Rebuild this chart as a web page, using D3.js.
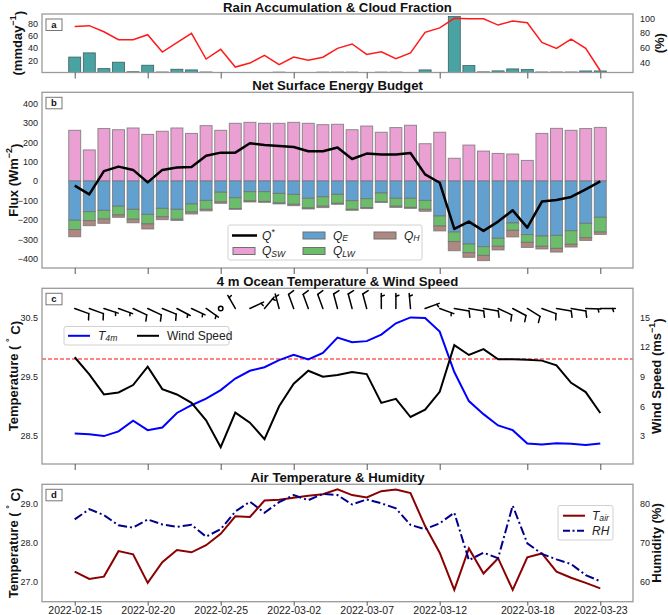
<!DOCTYPE html>
<html><head><meta charset="utf-8">
<script src="https://cdn.jsdelivr.net/npm/d3@7"></script>
<style>body{margin:0;background:#fff}svg{font-family:"Liberation Sans",Arial,sans-serif}</style>
</head><body><svg id="c" width="668" height="615"></svg>
<script>
// ---------------- DATA ----------------
const dates = ["2022-02-15","2022-02-16","2022-02-17","2022-02-18","2022-02-19","2022-02-20","2022-02-21","2022-02-22","2022-02-23","2022-02-24",
"2022-02-25","2022-02-26","2022-02-27","2022-02-28","2022-03-01","2022-03-02","2022-03-03","2022-03-04","2022-03-05","2022-03-06",
"2022-03-07","2022-03-08","2022-03-09","2022-03-10","2022-03-11","2022-03-12","2022-03-13","2022-03-14","2022-03-15","2022-03-16",
"2022-03-17","2022-03-18","2022-03-19","2022-03-20","2022-03-21","2022-03-22","2022-03-23"];
const tickDates = ["2022-02-15","2022-02-20","2022-02-25","2022-03-02","2022-03-07","2022-03-12","2022-03-18","2022-03-23"];

// (a) rain accumulation (mm/day) and cloud fraction (%)
const rain = [25,31.8,6.3,16.7,1.2,11.8,0.8,5.3,4.2,0.8,0,0,0,0,0.6,0,0,0.6,0.6,0.6,0,0.6,0.6,0,4.2,0,90.6,11.2,1.0,2.6,5.8,4.7,0.8,0.8,0.8,2.5,2.5];
const cloud = [89,90,81.7,70.8,70.8,77.6,54,66.7,79.5,44.5,57.7,33.5,39,49.5,36.7,47.2,43,47,59,65,50.8,54.4,44.9,52.7,80.9,87,100,99.5,99.5,90.8,96.3,94,67.2,59,71.7,59,28.5];

// (b) surface energy budget (W m-2)
const qSW = [261,160,270,264,273,240,256,273,245,285,261,297,302,297,297,302,297,290,292,264,283,251,275,287,192,251,117,185,154,142,139,106,245,271,261,270,276];
const qE  = [-202,-158,-151,-130,-146,-172,-141,-146,-118,-100,-58,-86,-55,-55,-64,-69,-89,-81,-69,-101,-91,-62,-89,-89,-100,-180,-263,-324,-338,-295,-216,-276,-283,-280,-256,-218,-187];
const qLW = [-48,-46,-45,-45,-51,-49,-43,-51,-42,-46,-50,-56,-48,-50,-49,-51,-50,-49,-46,-45,-46,-46,-41,-47,-46,-52,-49,-45,-45,-41,-38,-40,-53,-67,-70,-74,-76];
const qH  = [-37,-26,-22,-12,-18,-26,-15,-6,-10,-8,-7,-4,-5,-5,-5,-7,-5,-7,-5,-5,-5,-2,-6,-5,-10,-25,-47,-24,-27,-19,-34,-26,-14,-19,-14,-14,-12];
const qStar = [-24,-69,51,74,57,-7,57,69,72,130,146,146,194,185,180,175,153,153,172,113,141,137,137,144,34,-9,-247,-209,-257,-209,-151,-240,-106,-98,-82,-43,-2];

// (c) 4 m ocean temperature (°C), wind speed (m/s), wind direction (deg, barb staff bearing)
const t4m = [28.544,28.53,28.50,28.58,28.76,28.60,28.645,28.89,29.02,29.13,29.275,29.47,29.60,29.66,29.78,29.87,29.79,29.90,30.16,30.08,30.10,30.21,30.40,30.50,30.49,30.26,29.58,29.09,28.87,28.68,28.60,28.375,28.36,28.38,28.37,28.35,28.375];
const wind = [10.97,9.24,7.21,7.41,8.16,10.02,7.75,7.21,6.36,4.6,1.88,5.38,4.36,2.69,6.02,8.29,9.61,9.0,9.17,9.48,9.27,6.36,6.76,4.93,5.68,7.48,12.19,11.2,11.79,10.77,10.77,10.73,10.63,10.16,8.39,7.45,5.34];
const windDir = [110,110,108,110,115,115,112,118,115,125,0,330,65,40,345,340,340,340,345,345,345,0,0,355,70,110,100,100,100,115,118,122,110,100,100,92,90];
const t4mThreshold = 29.8;

// (d) air temperature (°C) and relative humidity (%)
const tAir = [27.255,27.07,27.13,27.78,27.70,26.97,27.50,27.81,27.75,27.93,28.22,28.67,28.65,29.07,29.09,29.14,29.19,29.23,29.36,29.21,29.15,29.31,29.35,29.26,28.42,27.74,26.79,27.85,27.21,27.60,26.79,27.62,27.72,27.255,27.10,26.97,26.83];
const rh = [75.9,78.5,77.0,74.4,73.8,75.9,74.6,74.0,74.5,71.5,73.4,77.9,80.4,77.6,80.3,82.1,80.8,82.4,82.1,79.7,81.0,80.0,78.7,74.5,73.4,74.9,77.6,65.5,67.4,66.0,79.4,69.8,67.1,65.7,64.5,61.7,60.1];

// ---------------- DRAW ----------------
const svg = d3.select("#c");
const parse = d3.utcParse("%Y-%m-%d");
const dts = dates.map(parse);
const DAY = 864e5;
const X0 = 42, X1 = 633;
const x = d3.scaleUtc()
  .domain([new Date(+dts[0] - 2.24*DAY), new Date(+dts[dts.length-1] + 2.24*DAY)])
  .range([X0, X1]);
const bw = x(new Date(+dts[0] + 0.82*DAY)) - x(dts[0]);

const P = {a:{top:14,bottom:72.5}, b:{top:92.3,bottom:268}, c:{top:288.3,bottom:464}, d:{top:484.3,bottom:601.7}};
const FRAME = "#9a9a9a";

function frame(p, title, letter, showX) {
  const g = svg.append("g");
  g.append("rect").attr("x", X0).attr("y", p.top).attr("width", X1-X0).attr("height", p.bottom-p.top)
    .attr("fill","none").attr("stroke",FRAME).attr("stroke-width",1.3);
  const ax = g.append("g").attr("transform",`translate(0,${p.bottom})`)
    .call(d3.axisBottom(x).tickValues(tickDates.map(parse)).tickSize(showX ? 4 : 6).tickPadding(showX ? 0.5 : 3)
      .tickFormat(showX ? d3.utcFormat("%Y-%m-%d") : () => ""));
  ax.select(".domain").remove();
  ax.selectAll(".tick line").attr("stroke","#555").attr("stroke-width",1);
  ax.selectAll(".tick text").attr("font-size",10.5).attr("fill","#222").attr("font-family","Liberation Sans, Arial, sans-serif");
  svg.append("text").attr("x",(X0+X1)/2).attr("y",p.top-2.2).attr("text-anchor","middle")
    .attr("font-weight","bold").attr("font-size",13.2).attr("fill","#111").text(title);
  const bx = X0+4, by = p.top+5;
  svg.append("rect").attr("x",bx).attr("y",by).attr("width",16).attr("height",11.5)
    .attr("fill","#fff").attr("stroke","#777").attr("stroke-width",1);
  svg.append("text").attr("x",bx+8).attr("y",by+9).attr("text-anchor","middle")
    .attr("font-size",9.5).attr("font-weight","bold").attr("fill","#111").text(letter);
}

function yAxis(scale, ticks, side, fmt) {
  const a = (side === "left" ? d3.axisLeft(scale) : d3.axisRight(scale))
    .tickValues(ticks).tickSize(0).tickPadding(side==="left"?4:7);
  if (fmt) a.tickFormat(fmt);
  const g = svg.append("g").attr("transform",`translate(${side==="left"?X0:X1},0)`).call(a);
  g.select(".domain").remove();
  g.selectAll(".tick text").attr("font-size",9).attr("fill","#222").attr("font-family","Liberation Sans, Arial, sans-serif");
}

function yLabelSup(xp, yc, before, sup, after) {
  const t = svg.append("text").attr("transform",`translate(${xp},${yc}) rotate(-90)`)
    .attr("text-anchor","middle").attr("dominant-baseline","central")
    .attr("font-weight","bold").attr("font-size",13).attr("fill","#111");
  t.append("tspan").text(before);
  if (sup) {
    t.append("tspan").attr("dy","-0.45em").attr("font-size","9px").text(sup);
    t.append("tspan").attr("dy","0.45em").text(after);
  }
  return t;
}
function mathText(g, xp, yp, base, sub, sup, size) {
  const t = g.append("text").attr("x",xp).attr("y",yp).attr("dominant-baseline","central")
    .attr("font-size",size||12).attr("font-style","italic").attr("fill","#222");
  t.append("tspan").text(base);
  if (sub) t.append("tspan").attr("dy","0.3em").attr("font-size","0.72em").text(sub);
  if (sup) t.append("tspan").attr("dy","-0.4em").attr("font-size","0.72em").text(sup);
  return t;
}

// ----- Panel a -----
const yRain = d3.scaleLinear().domain([0,94.8]).range([P.a.bottom,P.a.top]);
const yCloud = d3.scaleLinear().domain([26.1,105.9]).range([P.a.bottom,P.a.top]);
svg.append("g").selectAll("rect").data(rain).join("rect")
  .attr("x",(d,i)=>x(dts[i])-bw/2).attr("width",bw)
  .attr("y",d=>yRain(d)).attr("height",d=>yRain(0)-yRain(d))
  .attr("fill","#4aa3a3").attr("stroke","#3d5e5e").attr("stroke-width",0.8);
svg.append("path").datum(cloud).attr("fill","none").attr("stroke","#ff1a1a").attr("stroke-width",1.5)
  .attr("d", d3.line().x((d,i)=>x(dts[i])).y(d=>yCloud(d)));
frame(P.a, "Rain Accumulation & Cloud Fraction", "a", false);
yAxis(yRain,[20,40,60,80],"left");
yAxis(yCloud,[40,60,80,100],"right");
yLabelSup(17,(P.a.top+P.a.bottom)/2,"(mmday","\u22121",")");
yLabelSup(659,(P.a.top+P.a.bottom)/2,"(%)");

// ----- Panel b -----
const yF = d3.scaleLinear().domain([-447.9,456.6]).range([P.b.bottom,P.b.top]);
const C = {sw:"#eba0d4", e:"#62a0cf", lw:"#6bbc6b", h:"#ae8881"};
const segs = [];
dts.forEach((d,i)=>{
  segs.push({i, y0:0, y1:qSW[i], c:C.sw});
  segs.push({i, y0:0, y1:qE[i], c:C.e});
  segs.push({i, y0:qE[i], y1:qE[i]+qLW[i], c:C.lw});
  segs.push({i, y0:qE[i]+qLW[i], y1:qE[i]+qLW[i]+qH[i], c:C.h});
});
svg.append("g").selectAll("rect").data(segs).join("rect")
  .attr("x",d=>x(dts[d.i])-bw/2).attr("width",bw)
  .attr("y",d=>yF(Math.max(d.y0,d.y1))).attr("height",d=>Math.abs(yF(d.y0)-yF(d.y1)))
  .attr("fill",d=>d.c).attr("stroke","#6f6f6f").attr("stroke-opacity",0.75).attr("stroke-width",1);
svg.append("path").datum(qStar).attr("fill","none").attr("stroke","#000").attr("stroke-width",2.5)
  .attr("stroke-linejoin","round")
  .attr("d", d3.line().x((d,i)=>x(dts[i])).y(d=>yF(d)));
frame(P.b, "Net Surface Energy Budget", "b", false);
yAxis(yF,d3.range(-400,401,100),"left");
yLabelSup(13,(P.b.top+P.b.bottom)/2,"Flux (Wm","\u22122",")");
{
  const g = svg.append("g");
  g.append("rect").attr("x",228).attr("y",225).attr("width",194).attr("height",35).attr("rx",2)
    .attr("fill","#fff").attr("fill-opacity",0.85).attr("stroke","#d0d0d0");
  const r1 = 235.5, r2 = 251;
  g.append("line").attr("x1",232).attr("x2",257).attr("y1",r1).attr("y2",r1).attr("stroke","#000").attr("stroke-width",2.5);
  mathText(g,262,r1,"Q",null,"*");
  const patch = (px,py,c)=>g.append("rect").attr("x",px).attr("y",py-3.5).attr("width",22).attr("height",7)
     .attr("fill",c).attr("stroke","#6f6f6f").attr("stroke-width",1);
  patch(233,r2,C.sw); mathText(g,262,r2,"Q","SW");
  patch(303,r1,C.e); mathText(g,333,r1,"Q","E");
  patch(303,r2,C.lw); mathText(g,333,r2,"Q","LW");
  patch(374,r1,C.h); mathText(g,404,r1,"Q","H");
}

// ----- Panel c -----
const yT = d3.scaleLinear().domain([28.03,30.99]).range([P.c.bottom,P.c.top]);
const yW = d3.scaleLinear().domain([0.18,17.94]).range([P.c.bottom,P.c.top]);
svg.append("line").attr("x1",X0).attr("x2",X1).attr("y1",yT(t4mThreshold)).attr("y2",yT(t4mThreshold))
  .attr("stroke","#ff4040").attr("stroke-opacity",0.85).attr("stroke-width",1.4).attr("stroke-dasharray","4,2");
svg.append("path").datum(t4m).attr("fill","none").attr("stroke","#0000ff").attr("stroke-width",2)
  .attr("d", d3.line().x((d,i)=>x(dts[i])).y(d=>yT(d)));
svg.append("path").datum(wind).attr("fill","none").attr("stroke","#000").attr("stroke-width",2)
  .attr("d", d3.line().x((d,i)=>x(dts[i])).y(d=>yW(d)));
// wind barbs
{
  const g = svg.append("g").attr("stroke","#000").attr("stroke-width",1.5).attr("fill","none").attr("stroke-linecap","round");
  const L = 15, fh = 0.4*L, fw = 0.25*L, sp = 0.12*L;
  const by = yT(30.65);
  wind.forEach((s,i)=>{
    const cx = x(dts[i]);
    const r = Math.round(s/5)*5;
    if (r === 0) { g.append("circle").attr("cx",cx).attr("cy",by).attr("r",0.15*L); return; }
    const a = windDir[i]*Math.PI/180;
    const ux = Math.sin(a), uy = -Math.cos(a);
    const px = -uy, py = ux;
    const pt = (along, perp) => [cx + ux*along + px*perp, by + uy*along + py*perp];
    const segsB = [[pt(0,0), pt(L,0)]];
    let off = L;
    const nFull = Math.floor(r/10), half = (r%10) >= 5;
    for (let k=0;k<nFull;k++){ segsB.push([pt(off,0), pt(off+fw/2, fh)]); off -= sp; }
    if (half) {
      if (off === L) off -= 1.5*sp;
      segsB.push([pt(off,0), pt(off+fw/4, fh/2)]);
    }
    segsB.forEach(sg=>g.append("line").attr("x1",sg[0][0]).attr("y1",sg[0][1]).attr("x2",sg[1][0]).attr("y2",sg[1][1]));
  });
}
frame(P.c, "4 m Ocean Temperature & Wind Speed", "c", false);
yAxis(yT,[28.5,29.5,30.5],"left", d3.format(".1f"));
yAxis(yW,[3,6,9,12,15],"right");
yLabelSup(13,(P.c.top+P.c.bottom)/2,"Temperature ( ","\u00b0"," C)");
yLabelSup(656,(P.c.top+P.c.bottom)/2,"Wind Speed (ms","\u22121",")");
{
  const g = svg.append("g");
  g.append("rect").attr("x",64).attr("y",326.5).attr("width",165).attr("height",18.5).attr("rx",2)
    .attr("fill","#fff").attr("fill-opacity",0.85).attr("stroke","#d0d0d0");
  const r = 335.8;
  g.append("line").attr("x1",68).attr("x2",90).attr("y1",r).attr("y2",r).attr("stroke","#0000ff").attr("stroke-width",2);
  mathText(g,98,r,"T","4m");
  g.append("line").attr("x1",137).attr("x2",159).attr("y1",r).attr("y2",r).attr("stroke","#000").attr("stroke-width",2);
  g.append("text").attr("x",167).attr("y",r).attr("dominant-baseline","central").attr("font-size",12).attr("fill","#222").text("Wind Speed");
}

// ----- Panel d -----
const yTa = d3.scaleLinear().domain([26.49,29.485]).range([P.d.bottom,P.d.top]);
const yRH = d3.scaleLinear().domain([54.9,84.85]).range([P.d.bottom,P.d.top]);
svg.append("path").datum(tAir).attr("fill","none").attr("stroke","#8b0000").attr("stroke-width",2)
  .attr("d", d3.line().x((d,i)=>x(dts[i])).y(d=>yTa(d)));
svg.append("path").datum(rh).attr("fill","none").attr("stroke","#00008b").attr("stroke-width",2)
  .attr("stroke-dasharray","9,3,2,3")
  .attr("d", d3.line().x((d,i)=>x(dts[i])).y(d=>yRH(d)));
frame(P.d, "Air Temperature & Humidity", "d", true);
yAxis(yTa,[27,28,29],"left");
yAxis(yRH,[60,70,80],"right");
yLabelSup(13,(P.d.top+P.d.bottom)/2,"Temperature ( ","\u00b0"," C)");
yLabelSup(656,(P.d.top+P.d.bottom)/2,"Humidity (%)");
{
  const g = svg.append("g");
  g.append("rect").attr("x",558).attr("y",505.5).attr("width",55).attr("height",34.5).attr("rx",2)
    .attr("fill","#fff").attr("fill-opacity",0.85).attr("stroke","#d0d0d0");
  g.append("line").attr("x1",563).attr("x2",585).attr("y1",515.7).attr("y2",515.7).attr("stroke","#8b0000").attr("stroke-width",2);
  mathText(g,592,515.7,"T","air");
  g.append("line").attr("x1",563).attr("x2",585).attr("y1",530.7).attr("y2",530.7).attr("stroke","#00008b").attr("stroke-width",2).attr("stroke-dasharray","7,2.5,2,2.5");
  mathText(g,592,530.7,"RH");
}
</script></body></html>
